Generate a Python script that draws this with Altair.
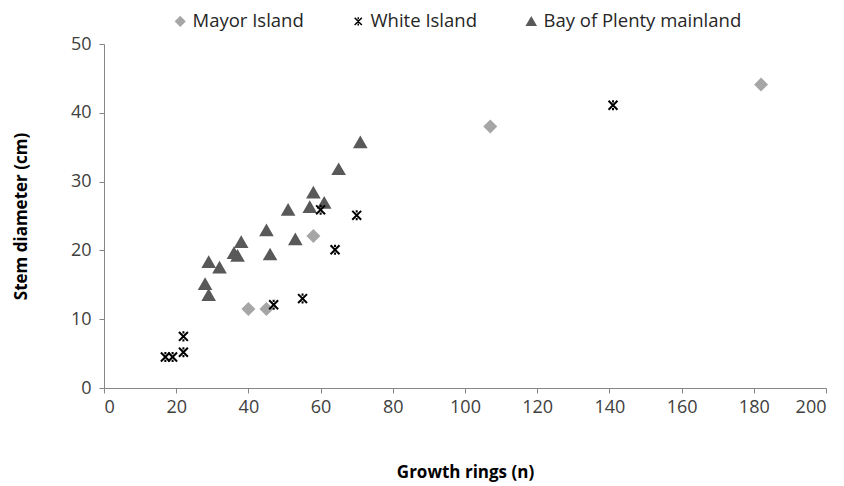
import altair as alt
import pandas as pd

series_names = ["Mayor Island", "White Island", "Bay of Plenty mainland"]

mayor_x = [40, 45, 58, 107, 182]
mayor_y = [11.5, 11.5, 22.1, 38.0, 44.1]

white_x = [17, 19, 22, 22, 47, 55, 60, 64, 70, 141]
white_y = [4.5, 4.5, 5.2, 7.5, 12.1, 13.0, 25.9, 20.1, 25.1, 41.1]

bop_x = [28, 29, 29, 32, 36, 37, 38, 45, 46, 51, 53, 57, 58, 61, 65, 71]
bop_y = [15.1, 13.5, 18.3, 17.5, 19.6, 19.2, 21.2, 22.9, 19.4, 25.9, 21.6, 26.3, 28.4, 26.9, 31.8, 35.7]

colors = ["#A6A6A6", "#000000", "#595959"]
star_x = "M-0.8,-0.8L0.8,0.8M0.8,-0.8L-0.8,0.8M0,-0.9L0,-0.5M0,0.5L0,0.9"
shapes = ["diamond", star_x, "triangle-up"]

rows = []
for name, xs, ys in zip(series_names, [mayor_x, white_x, bop_x], [mayor_y, white_y, bop_y]):
    for xv, yv in zip(xs, ys):
        rows.append({"series": name, "rings": xv, "diam": yv})
df = pd.DataFrame(rows)

FONT = "Open Sans"

leg = alt.Legend(
    title=None, orient="none", direction="horizontal", legendX=67, legendY=-32,
    labelFont=FONT, labelFontSize=18.5, labelColor="#262626", symbolSize=80,
    columnPadding=45, labelOffset=3, symbolStrokeWidth=1.5, labelLimit=400, padding=0,
)

dom = series_names
chart = alt.Chart(df).mark_point(filled=True, size=125, strokeWidth=2, opacity=1).encode(
    x=alt.X("rings:Q", scale=alt.Scale(domain=[0, 200], nice=False),
            axis=alt.Axis(values=list(range(0, 201, 20)), title="Growth rings (n)",
                          titleY=84, titleBaseline="middle", labelPadding=5)),
    y=alt.Y("diam:Q", scale=alt.Scale(domain=[0, 50], nice=False),
            axis=alt.Axis(values=list(range(0, 51, 10)), title="Stem diameter (cm)",
                          titleX=-83, titleY=172, titleBaseline="middle", labelPadding=8)),
    color=alt.Color("series:N", scale=alt.Scale(domain=dom, range=colors), legend=leg),
    stroke=alt.Stroke("series:N", scale=alt.Scale(domain=dom, range=colors), legend=leg),
    shape=alt.Shape("series:N", scale=alt.Scale(domain=dom, range=shapes), legend=leg),
    order=alt.Order("series:N"),
).properties(
    width=722, height=344,
    autosize=alt.AutoSizeParams(type="none"),
    padding={"left": 96, "top": 36, "right": 10, "bottom": 95},
).configure_view(
    stroke=None
).configure_axis(
    grid=False, domainColor="#868686", tickColor="#868686", tickSize=5,
    labelFont=FONT, labelFontSize=18, labelColor="#404040",
    titleFont=FONT, titleFontSize=17, titleFontWeight="bold", titleColor="#000000",
)

chart.save("out.html", embed_options={"renderer": "svg", "actions": False})
